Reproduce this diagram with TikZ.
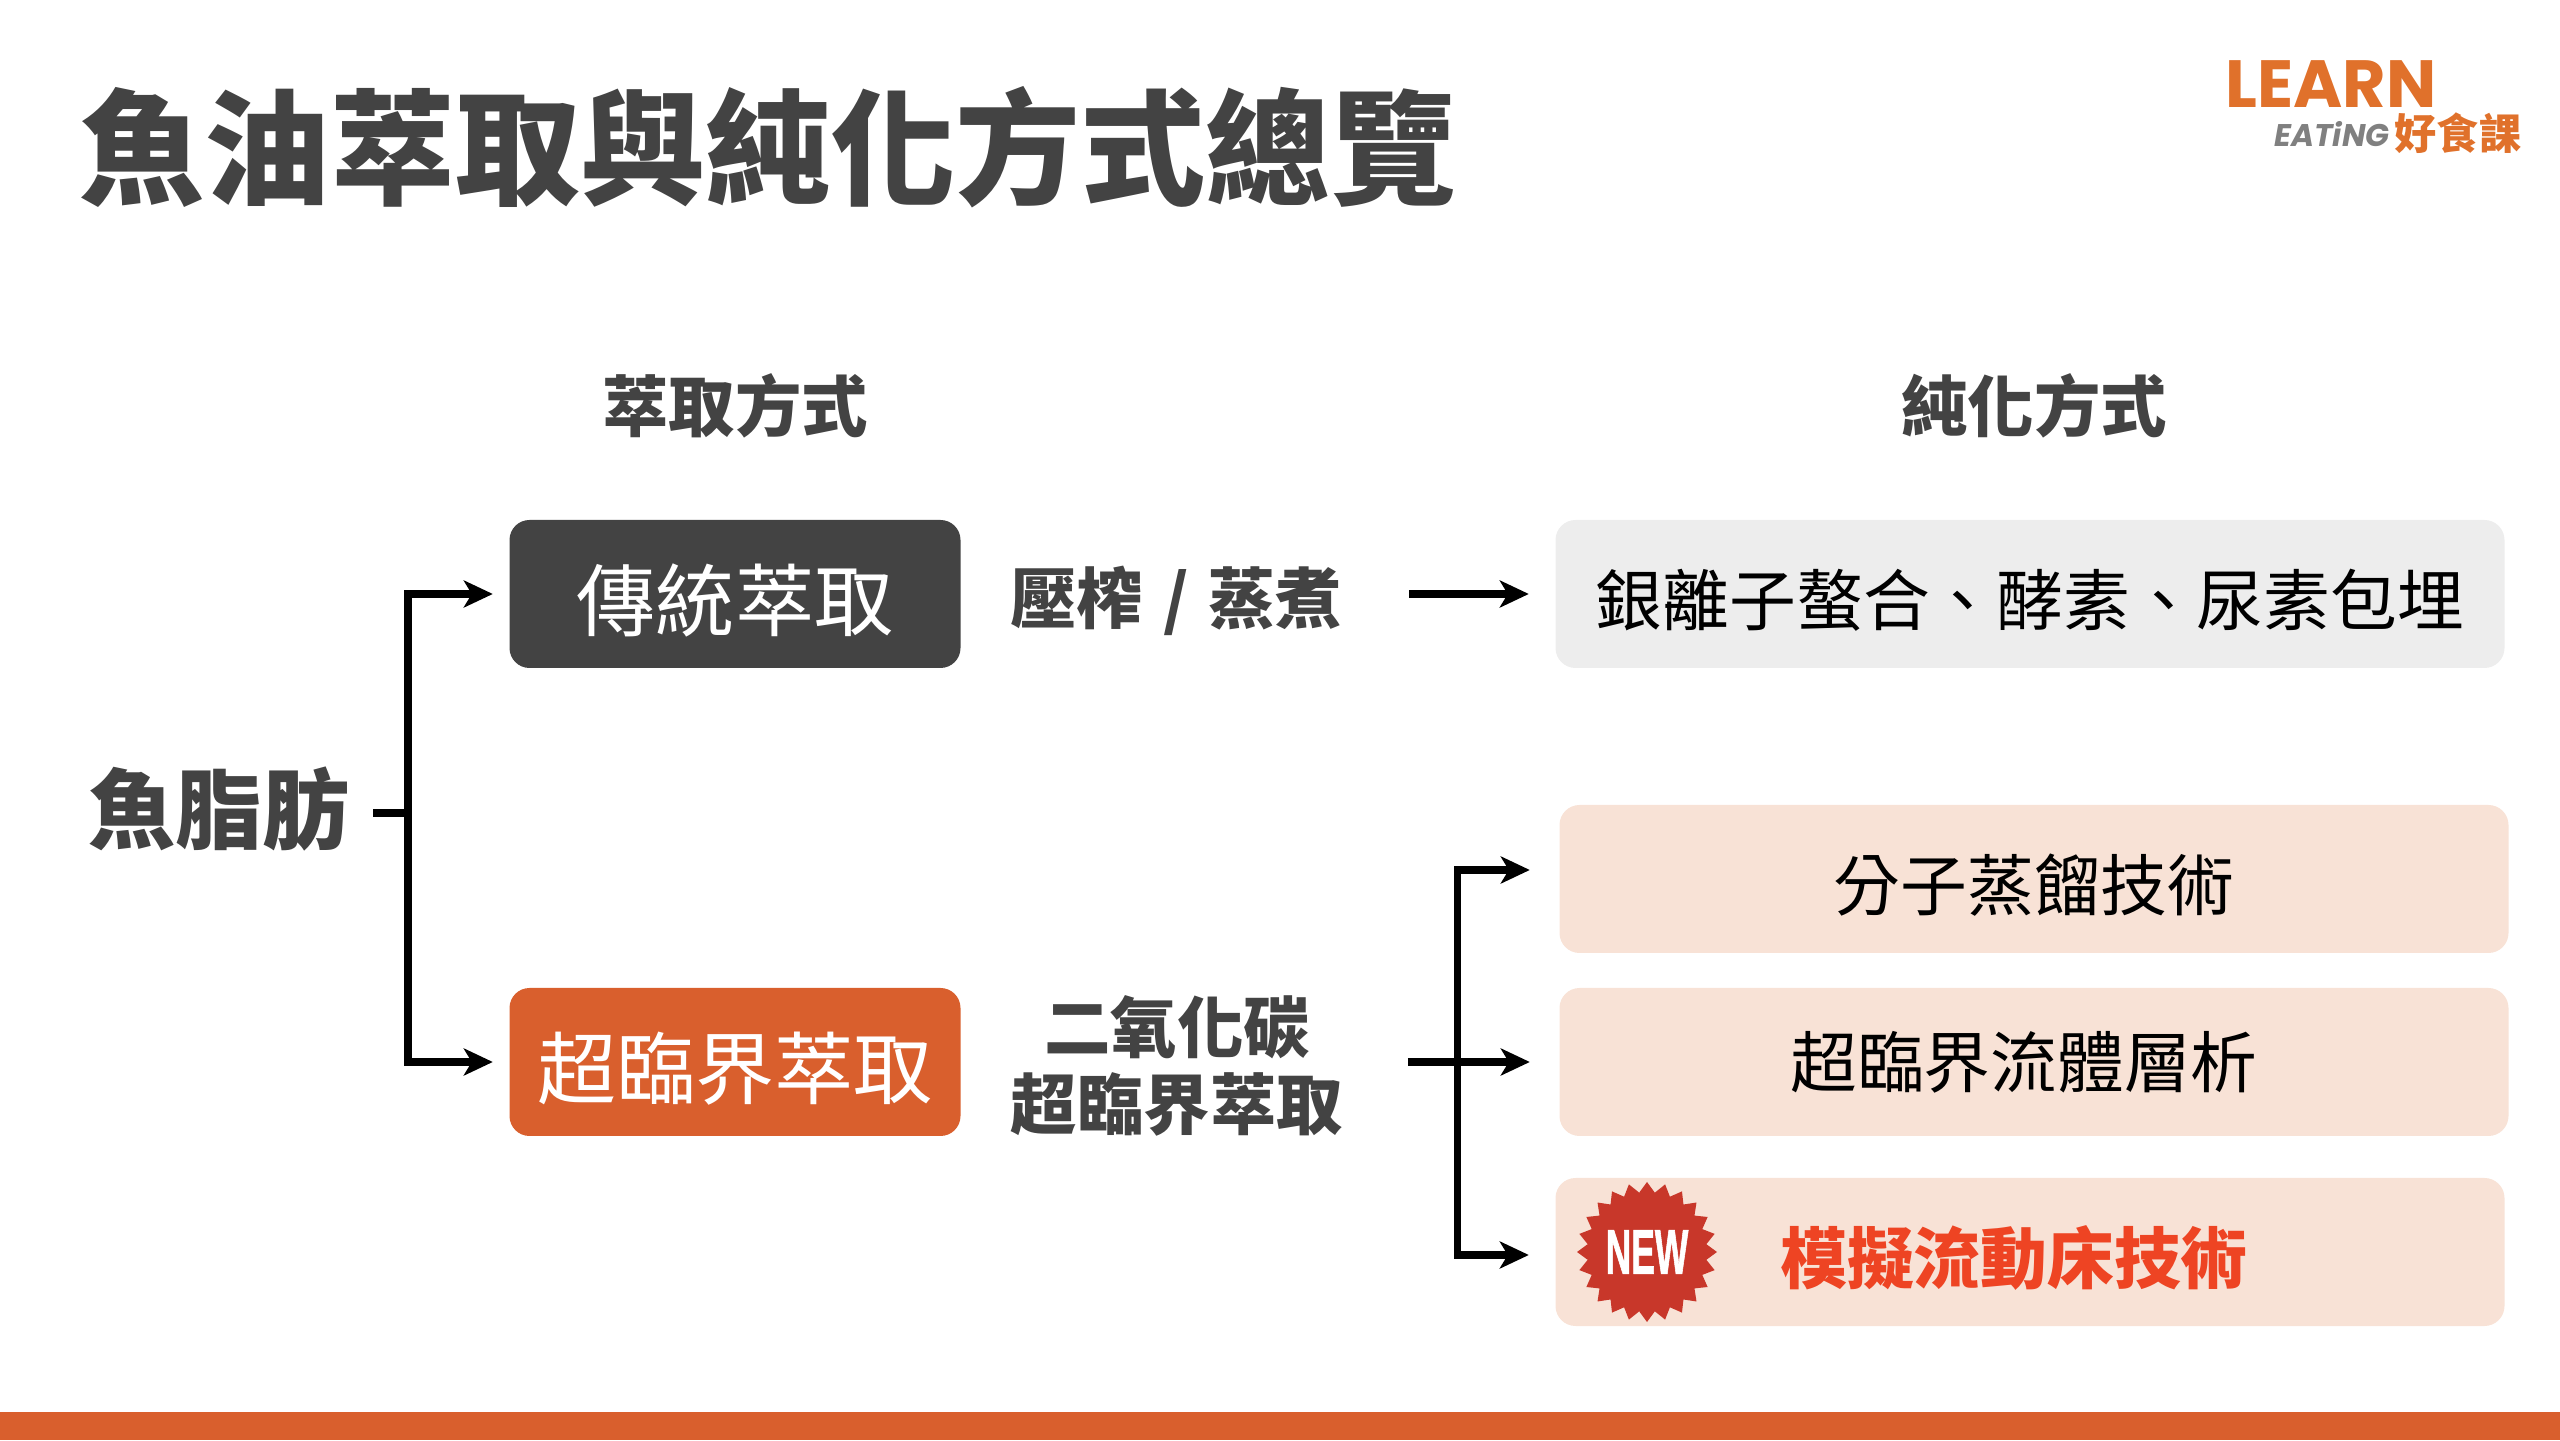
\documentclass[tikz,border=0pt]{standalone}
\usepackage{fontspec}
\setmainfont{Noto Sans CJK TC}
\newfontfamily\heavyfont{Noto Sans CJK TC Black}
\newfontfamily\logofont{Poppins}
\newfontfamily\stampfont{Liberation Sans}[FakeBold=1.5]
\usetikzlibrary{arrows.meta,shapes.geometric}
\definecolor{ink}{HTML}{434343}
\definecolor{brand}{HTML}{D95F2D}
\definecolor{logoorange}{HTML}{E0712B}
\definecolor{logogrey}{HTML}{808080}
\definecolor{paleGrey}{HTML}{EDEDED}
\definecolor{palePeach}{HTML}{F8E2D6}
\definecolor{newRed}{HTML}{EE4423}
\definecolor{stampRed}{HTML}{C8372A}
\tikzset{
	box/.style={rounded corners=0.2cm, minimum height=1.48cm, inner sep=0pt, font=\fontsize{19}{19}\selectfont, text=black, text height=17.8pt, text depth=0pt},
	method/.style={box, minimum width=4.51cm, font=\fontsize{22.5}{22.5}\selectfont, text=white, text height=20.5pt},
	result/.style={box, minimum width=9.49cm},
	heading/.style={inner sep=0pt, text=ink, font=\heavyfont\fontsize{18.9}{21.8}\selectfont, align=center},
	logotext/.style={inner sep=0pt, anchor=base, text depth=0pt},
	link/.style={line width=2pt, draw=black},
	tip/.style={link, -{Stealth[length=0.29cm, width=0.27cm, inset=0.08cm]}},
}
\begin{document}
\begin{tikzpicture}
	\useasboundingbox (0,0) rectangle (25.6,14.4);
	\fill[brand] (0,0) rectangle (25.6,0.28);

	\node[inner sep=0pt, text=ink, font=\heavyfont\fontsize{35.6}{35.6}\selectfont] (title) at (7.68,12.93) {魚油萃取與純化方式總覽};

	\node[logotext, text=logoorange, text height=13.5pt, font=\logofont\fontsize{19}{19}\selectfont\bfseries] (learn) at (23.31,13.32) {LEARN};
	\node[logotext, text=logogrey, text height=6.5pt, font=\logofont\fontsize{8.9}{8.9}\selectfont\bfseries\itshape] (eating) at (23.32,12.93) {EATiNG};
	\node[logotext, text=logoorange, text height=10pt, font=\fontsize{12}{12}\selectfont\bfseries] (school) at (24.58,12.9) {好食課};

	\node[heading] (headA) at (7.35,10.34) {萃取方式};
	\node[heading] (headB) at (20.34,10.34) {純化方式};

	\node[heading, font=\heavyfont\fontsize{24.8}{24.8}\selectfont] (fat) at (2.19,6.31) {魚脂肪};
	\node[method, fill=ink] (trad) at (7.35,8.46) {傳統萃取};
	\node[method, fill=brand] (super) at (7.35,3.78) {超臨界萃取};

	\node[heading] (press) at (11.76,8.39) {壓榨\hspace{0.2cm}/\hspace{0.2cm}蒸煮};
	\node[heading] (carbon) at (11.77,3.74) {二氧化碳\\超臨界萃取};

	\node[result, fill=paleGrey] (silver) at (20.3,8.46) {銀離子螯合、酵素、尿素包埋};
	\node[result, fill=palePeach] (mol) at (20.34,5.61) {分子蒸餾技術};
	\node[result, fill=palePeach, text height=14.6pt] (fluid) at (20.34,3.78) {\hspace*{-0.2cm}超臨界流體層析};
	\node[result, fill=palePeach] (smb) at (20.3,1.88) {};
	\node[inner sep=0pt, text=newRed, font=\fontsize{19}{19}\selectfont\bfseries] (smbText) at (20.14,1.82) {模擬流動床技術};

	\node[star, star points=24, star point ratio=1.17, minimum size=1.4cm, inner sep=0pt, fill=stampRed] (stamp) at (16.47,1.88) {};
	\node[inner sep=0pt, text=white, xscale=0.56, font=\stampfont\fontsize{18}{18}\selectfont\bfseries] (new) at (stamp) {NEW};

	\coordinate (splitA) at (4.08,6.27);
	\coordinate (splitB) at (14.57,3.78);

	\draw[link, shorten <=0.23cm] (fat.east |- splitA) -- (splitA);
	\draw[tip, shorten >=0.16cm] (splitA) |- (trad.west);
	\draw[tip, shorten >=0.16cm] (splitA) |- (super.west);

	\draw[tip, shorten <=0.67cm, shorten >=0.26cm] (press.east |- silver) -- (silver.west);

	\draw[link, shorten <=0.64cm] (carbon.east |- splitB) -- (splitB);
	\draw[tip, shorten >=0.29cm] (splitB) |- ([yshift=0.09cm]mol.west);
	\draw[tip, shorten >=0.29cm] (splitB) -- (fluid.west);
	\draw[tip, shorten >=0.26cm] (splitB) |- ([yshift=-0.03cm]smb.west);
\end{tikzpicture}
\end{document}
